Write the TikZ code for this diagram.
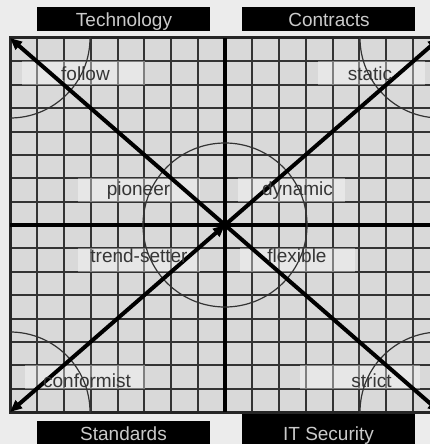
\documentclass[tikz,border=0pt]{standalone}
\usepackage{fontspec}
\setmainfont{Liberation Sans}
\usetikzlibrary{arrows.meta}
\definecolor{bgout}{HTML}{ECECEC}
\definecolor{bgin}{HTML}{D9D9D9}
\definecolor{gridc}{HTML}{333333}
\definecolor{lblc}{HTML}{363636}
\definecolor{titc}{HTML}{CACACA}
\tikzset{
  gridline/.style={draw=gridc, line width=2pt},
  border/.style={draw=black!85, line width=3pt},
  axisline/.style={draw=black, line width=4.2pt},
  arcline/.style={draw=gridc, line width=1.2pt},
  diag/.style={draw=black, line width=4pt},
  band/.style={fill=white, fill opacity=0.38, draw=none},
  lbl/.style={text=lblc, font=\fontsize{19}{22}\selectfont, inner sep=0pt, anchor=base},
  titlebox/.style={fill=black, draw=none, inner sep=0pt},
  titletext/.style={text=titc, font=\fontsize{19}{22}\selectfont, inner sep=0pt, anchor=base},
  tip/.style={-{Triangle[length=12pt,width=10pt]}}
}
\begin{document}
\begin{tikzpicture}[x=1pt,y=-1pt]
\useasboundingbox (0,0) rectangle (430,444);
\clip (0,0) rectangle (430,444);
\fill[bgout] (0,0) rectangle (430,444);
\fill[bgin] (10,38) rectangle (440,412);
% grid
\foreach \i in {0,...,16} \draw[gridline] ({10+\i*26.875},38) -- ({10+\i*26.875},412);
\foreach \j in {0,...,16} \draw[gridline] (10,{38+\j*23.375}) -- (440,{38+\j*23.375});
% label bands
\fill[band] (22,61.4) rectangle (145,84.8);
\fill[band] (318,61.4) rectangle (425,84.8);
\fill[band] (78,178.3) rectangle (200,201.6);
\fill[band] (238,178.3) rectangle (345,201.6);
\fill[band] (78,248.4) rectangle (200,271.8);
\fill[band] (240,248.4) rectangle (355,271.8);
\fill[band] (25,365.3) rectangle (145,388.6);
\fill[band] (300,365.3) rectangle (420,388.6);
% border and axes
\draw[border] (10,38) rectangle (440,412);
\coordinate (c) at (225,225);
\coordinate (tl) at (10,38);
\coordinate (tr) at (440,38);
\coordinate (bl) at (10,412);
\coordinate (br) at (440,412);
\coordinate (ct) at (225,38);
\coordinate (cb) at (225,412);
\coordinate (cl) at (10,225);
\coordinate (cr) at (440,225);
\draw[axisline] (ct) -- (cb);
\draw[axisline] (cl) -- (cr);
% circles
\begin{scope}
\clip (10,38) rectangle (440,412);
\draw[arcline] (c) circle[radius=82pt];
\draw[arcline] (tl) circle[radius=80pt];
\draw[arcline] (tr) circle[radius=80pt];
\draw[arcline] (bl) circle[radius=80pt];
\draw[arcline] (br) circle[radius=80pt];
\end{scope}
% diagonals
\draw[diag, tip] (c) -- (tl);
\draw[diag, tip] (c) -- (tr);
\draw[diag, tip] (c) -- (br);
\draw[diag, {Triangle[length=12pt,width=10pt]}-{Triangle[length=12pt,width=10pt]}] (bl) -- (c);
% labels
\node[lbl] (follow) at (85.5,80) {follow};
\node[lbl] (static) at (370,80) {static};
\node[lbl] (pioneer) at (138.5,195.5) {pioneer};
\node[lbl] (dynamic) at (297.5,195.5) {dynamic};
\node[lbl] (trend) at (139,262) {trend-setter};
\node[lbl] (flexible) at (297,262) {flexible};
\node[lbl] (conformist) at (87,387) {conformist};
\node[lbl] (strict) at (371.5,387) {strict};
% title boxes
\node[titlebox, minimum width=173pt, minimum height=24pt] (techbox) at (123.5,19) {};
\node[titlebox, minimum width=173pt, minimum height=24pt] (contbox) at (328.5,19) {};
\node[titlebox, minimum width=173pt, minimum height=30pt] (stdbox) at (123.5,436) {};
\node[titlebox, minimum width=173pt, minimum height=36pt] (secbox) at (328.5,432) {};
\node[titletext] (tech) at (124,26.5) {Technology};
\node[titletext] (cont) at (329,26.5) {Contracts};
\node[titletext] (std) at (123.5,440) {Standards};
\node[titletext] (sec) at (328.5,440) {IT Security};
\end{tikzpicture}
\end{document}
